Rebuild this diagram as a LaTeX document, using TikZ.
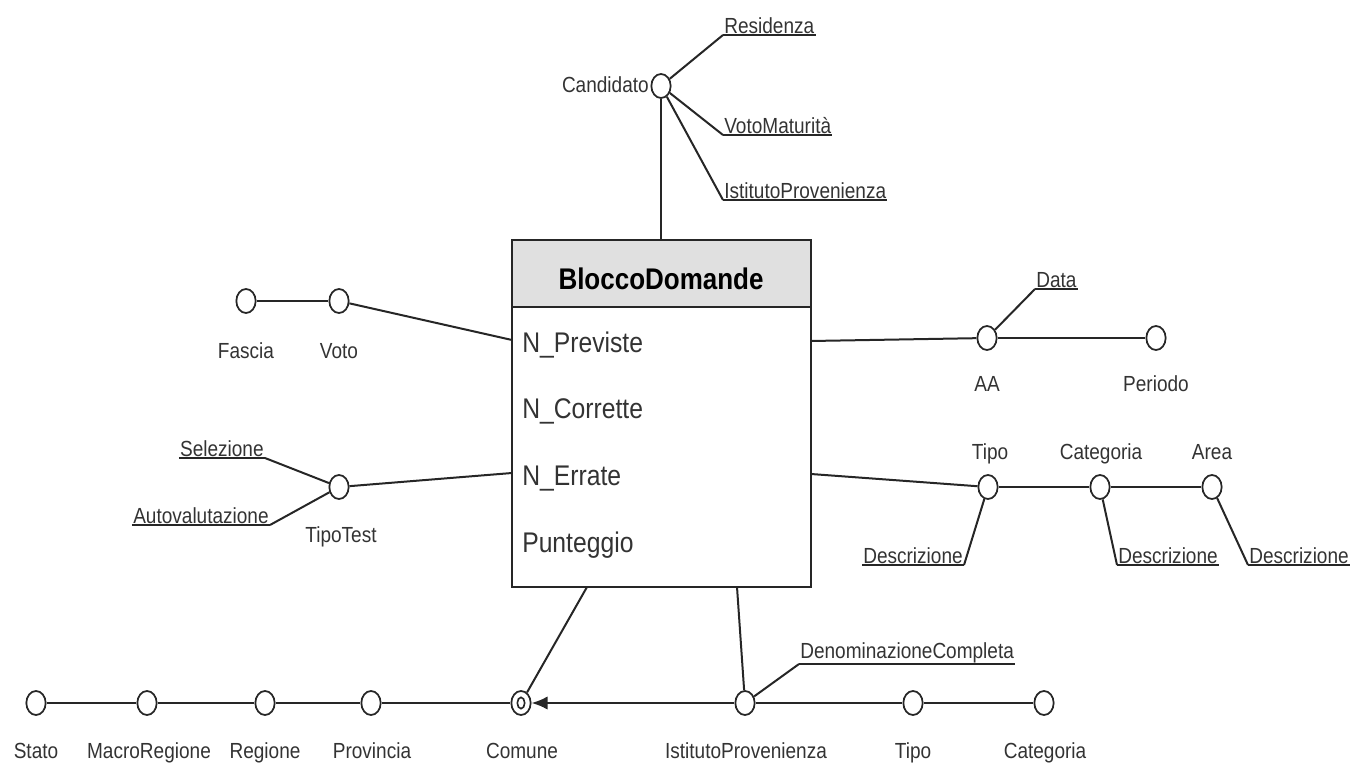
\documentclass[tikz,border=0pt]{standalone}
\usepackage{fontspec}
\setmainfont{Liberation Sans}[FakeStretch=0.87]
\usetikzlibrary{arrows.meta,shapes.geometric}
\begin{document}
\begin{tikzpicture}[x=0.75pt,y=-0.75pt,
  every node/.style={font=\fontsize{16.4}{18}\selectfont, text=black!80},
  conn/.style={draw=black!85, line width=1.5pt},
  att/.style={ellipse, draw=black!85, line width=1.3pt, fill=white,
    minimum width=14.5pt, minimum height=18pt, inner sep=0pt},
  keyatt/.style={inner sep=1pt, outer sep=0pt},
  uline/.style={draw=black!85, line width=1.4pt},
  lbl/.style={inner sep=0pt, anchor=base},
  boxtext/.style={font=\fontsize{21.3}{23}\selectfont, text=black!80, anchor=base west, inner sep=0pt}]
\useasboundingbox (0,0) rectangle (1351,766);

% --- central entity ---
\fill[black!12] (512,240) rectangle (811,307);
\draw[line width=1.5pt, draw=black!85] (512,240) rectangle (811,587);
\draw[line width=1.5pt, draw=black!85] (512,307) -- (811,307);
\node[font=\bfseries\fontsize{22.4}{24}\selectfont, text=black, anchor=base] (title) at (661,290) {BloccoDomande};
\node[boxtext] (nprev) at (522,352) {N\_Previste};
\node[boxtext] (ncorr) at (522,418) {N\_Corrette};
\node[boxtext] (nerr)  at (522,485) {N\_Errate};
\node[boxtext] (punt)  at (522,552) {Punteggio};
\coordinate (bTop) at (661,240);
\coordinate (bL1) at (512,340);
\coordinate (bL2) at (512,473);
\coordinate (bR1) at (811,341);
\coordinate (bR2) at (811,474);
\coordinate (bB1) at (587,587);
\coordinate (bB2) at (737,587);

% --- Candidato ---
\node[att] (cand) at (661,86) {};
\node[lbl, anchor=base east] at (649,93) {Candidato};
\node[keyatt, anchor=south west] (resid) at (723,35) {Residenza};
\node[keyatt, anchor=south west] (vmat) at (723,135) {VotoMaturità};
\node[keyatt, anchor=south west] (istp) at (723,200) {IstitutoProvenienza};
\foreach \k in {resid,vmat,istp} \draw[uline] (\k.south west) -- (\k.south east);
\draw[conn] (cand) -- (resid.south west);
\draw[conn] (cand) -- (vmat.south west);
\draw[conn] (cand) -- (istp.south west);
\draw[conn] (cand) -- (bTop);

% --- Voto / Fascia ---
\node[att] (fascia) at (246,301) {};
\node[att] (voto) at (339,301) {};
\node[lbl] at (246,358) {Fascia};
\node[lbl] at (339,358) {Voto};
\draw[conn] (fascia) -- (voto);
\draw[conn] (voto) -- (bL1);

% --- TipoTest ---
\node[att] (tipotest) at (339,487) {};
\node[lbl] at (341,542) {TipoTest};
\node[keyatt, anchor=south east] (selez) at (265,458) {Selezione};
\node[keyatt, anchor=south east] (autov) at (270,525) {Autovalutazione};
\foreach \k in {selez,autov} \draw[uline] (\k.south west) -- (\k.south east);
\draw[conn] (tipotest) -- (selez.south east);
\draw[conn] (tipotest) -- (autov.south east);
\draw[conn] (tipotest) -- (bL2);

% --- AA / Periodo ---
\node[att] (aa) at (987,338) {};
\node[att] (periodo) at (1156,338) {};
\node[lbl] at (987,391) {AA};
\node[lbl] at (1156,391) {Periodo};
\node[keyatt, anchor=south west] (data) at (1035,289) {Data};
\draw[uline] (data.south west) -- (data.south east);
\draw[conn] (aa) -- (data.south west);
\draw[conn] (bR1) -- (aa);
\draw[conn] (aa) -- (periodo);

% --- Tipo / Categoria / Area ---
\node[att] (tipo) at (988,487) {};
\node[att] (categ) at (1100,487) {};
\node[att] (area) at (1212,487) {};
\node[lbl] at (990,459) {Tipo};
\node[lbl] at (1101,459) {Categoria};
\node[lbl] at (1212,459) {Area};
\node[keyatt, anchor=south east] (dtipo) at (964,565) {Descrizione};
\node[keyatt, anchor=south west] (dcat) at (1117,565) {Descrizione};
\node[keyatt, anchor=south west] (darea) at (1248,565) {Descrizione};
\foreach \k in {dtipo,dcat,darea} \draw[uline] (\k.south west) -- (\k.south east);
\draw[conn] (tipo) -- (dtipo.south east);
\draw[conn] (categ) -- (dcat.south west);
\draw[conn] (area) -- (darea.south west);
\draw[conn] (bR2) -- (tipo);
\draw[conn] (tipo) -- (categ) -- (area);

% --- geographic chain ---
\node[att] (stato) at (36,703) {};
\node[att] (macro) at (147,703) {};
\node[att] (regione) at (265,703) {};
\node[att] (prov) at (371,703) {};
\node[att] (comune) at (521,703) {};
\node[ellipse, draw=black!85, line width=1.2pt, minimum width=5.5pt, minimum height=8.5pt, inner sep=0pt] at (521,703) {};
\node[lbl] at (36,758) {Stato};
\node[lbl] at (149,758) {MacroRegione};
\node[lbl] at (265,758) {Regione};
\node[lbl] at (372,758) {Provincia};
\node[lbl] at (522,758) {Comune};
\draw[conn] (stato) -- (macro) -- (regione) -- (prov) -- (comune);
\draw[conn] (bB1) -- (comune);

% --- IstitutoProvenienza chain ---
\node[att] (ist) at (745,703) {};
\node[att] (itipo) at (913,703) {};
\node[att] (icat) at (1044,703) {};
\node[lbl] at (746,758) {IstitutoProvenienza};
\node[lbl] at (913,758) {Tipo};
\node[lbl] at (1045,758) {Categoria};
\node[keyatt, anchor=south west] (denom) at (799,664) {DenominazioneCompleta};
\draw[uline] (denom.south west) -- (denom.south east);
\draw[conn] (ist) -- (denom.south west);
\draw[conn] (bB2) -- (ist);
\draw[conn] (ist) -- (itipo) -- (icat);
\draw[conn, -{Latex[length=12pt,width=10pt]}] (ist) -- (comune);
\end{tikzpicture}
\end{document}
